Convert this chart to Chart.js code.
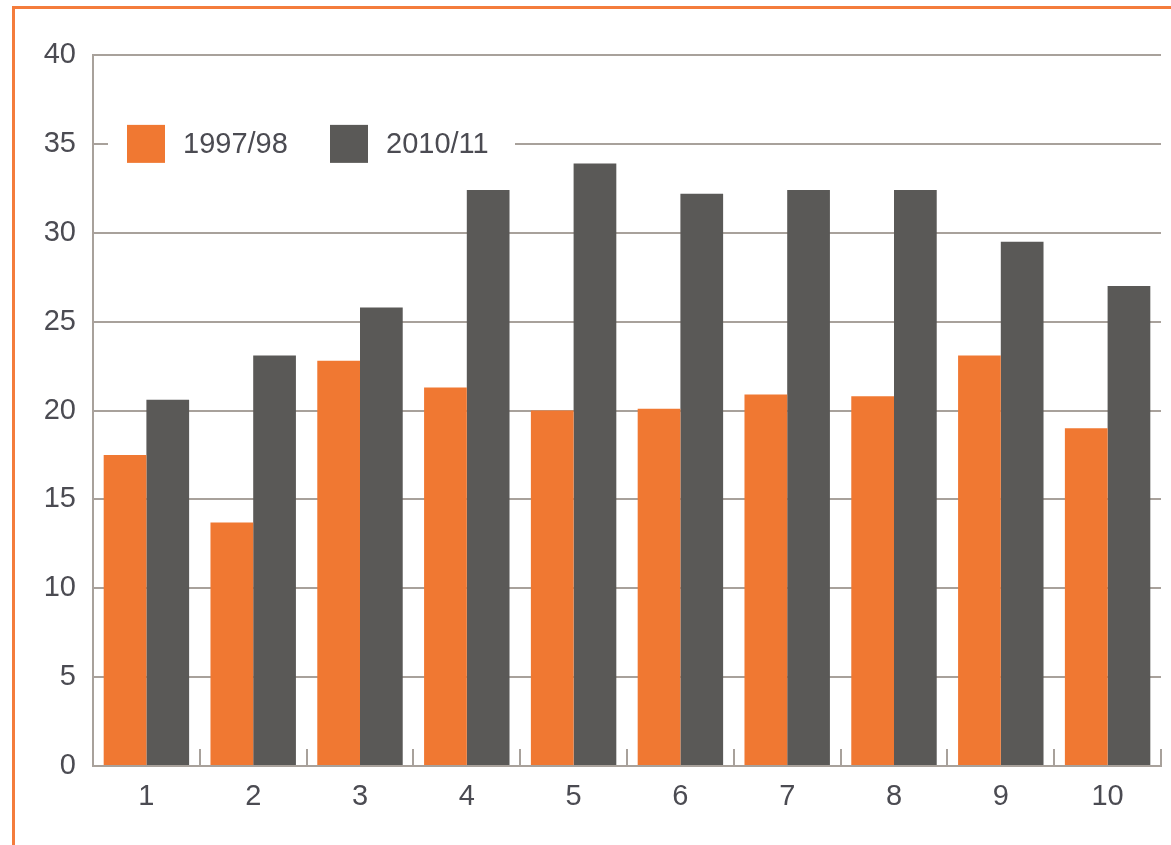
<!DOCTYPE html>
<html>
<head>
<meta charset="utf-8">
<script src="https://cdn.jsdelivr.net/npm/chart.js@4/dist/chart.umd.min.js"></script>
<style>
	body { margin: 0; background: #fff; }
	#frame {
		position: absolute; left: 12px; top: 6px; width: 1200px; height: 900px;
		border-left: 3px solid #f47c3c; border-top: 3px solid #f47c3c;
	}
	#wrap { position: absolute; left: 0; top: 0; width: 1171px; height: 845px; }
</style>
</head>
<body>
<div id="frame"></div>
<div id="wrap"><canvas id="data"></canvas></div>
<script>
const categories = ["1", "2", "3", "4", "5", "6", "7", "8", "9", "10"];
const series1997 = [17.5, 13.7, 22.8, 21.3, 20.0, 20.1, 20.9, 20.8, 23.1, 19.0];
const series2010 = [20.6, 23.1, 25.8, 32.4, 33.9, 32.2, 32.4, 32.4, 29.5, 27.0];
const seriesLabels = ["1997/98", "2010/11"];
const yTicks = [0, 5, 10, 15, 20, 25, 30, 35, 40];

const orange = "#f07832";
const darkGray = "#5a5957";
const lineGray = "#a8a19b";
const textColor = "#4b4b52";
const fontFamily = "'Liberation Sans', Arial, sans-serif";

// legend sits on the 35 gridline, on a white patch
const legendPlugin = {
	id: "inlineLegend",
	beforeDatasetsDraw(chart) {
		const ctx = chart.ctx;
		const y = chart.scales.y.getPixelForValue(35);
		const left = chart.chartArea.left;
		ctx.save();
		ctx.fillStyle = "#fff";
		ctx.fillRect(left + 15, y - 26, 407, 52);
		ctx.font = "29px " + fontFamily;
		ctx.textBaseline = "middle";
		ctx.textAlign = "left";
		const itemX = [left + 34, left + 237];
		chart.data.datasets.forEach((ds, i) => {
			ctx.fillStyle = ds.backgroundColor;
			ctx.fillRect(itemX[i], y - 19, 38, 38);
			ctx.fillStyle = textColor;
			ctx.fillText(ds.label, itemX[i] + 56, y + 1);
		});
		ctx.restore();
	}
};

new Chart(document.getElementById("data"), {
	type: "bar",
	data: {
		labels: categories,
		datasets: [
			{ label: seriesLabels[0], data: series1997, backgroundColor: orange },
			{ label: seriesLabels[1], data: series2010, backgroundColor: darkGray }
		]
	},
	options: {
		responsive: true,
		maintainAspectRatio: false,
		animation: false,
		layout: { padding: { top: 55, right: 10, left: 0, bottom: 0 } },
		datasets: { bar: { categoryPercentage: 0.8, barPercentage: 1.0 } },
		scales: {
			x: {
				afterFit: (scale) => { scale.height = 79; },
				grid: {
					offset: true,
					drawOnChartArea: false,
					drawTicks: true,
					tickLength: -17,
					color: lineGray,
					lineWidth: 2
				},
				border: { display: true, color: lineGray, width: 2 },
				ticks: {
					color: textColor,
					font: { family: fontFamily, size: 29 },
					padding: 31
				}
			},
			y: {
				min: 0,
				max: 40,
				afterFit: (scale) => { scale.width = 93; },
				afterBuildTicks: (scale) => {
					scale.ticks = yTicks.map((v) => ({ value: v }));
				},
				grid: { color: lineGray, lineWidth: 2, drawTicks: false },
				border: { display: true, color: lineGray, width: 2 },
				ticks: {
					color: textColor,
					font: { family: fontFamily, size: 29 },
					padding: 17
				}
			}
		},
		plugins: {
			legend: { display: false },
			tooltip: { enabled: false }
		}
	},
	plugins: [legendPlugin]
});
</script>
</body>
</html>
